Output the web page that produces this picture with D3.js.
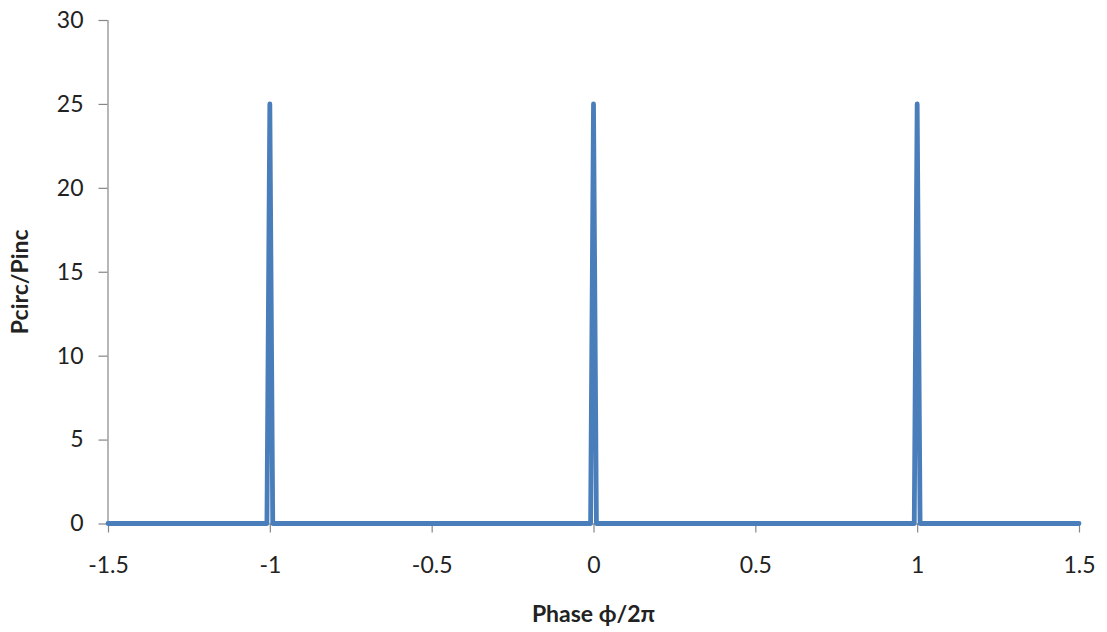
<!DOCTYPE html>
<html>
<head>
<meta charset="utf-8">
<script src="https://cdn.jsdelivr.net/npm/d3@7"></script>
<style>
  html, body { margin: 0; padding: 0; background: #fff; }
  svg { display: block; }
  .tick text { font-family: Lato, "Open Sans", sans-serif; font-size: 23px; fill: #222; }
</style>
</head>
<body>
<svg id="chart" width="1107" height="632"></svg>
<script>
// Phase (φ/2π) sample positions
const phase = [-1.5, -1.009, -1.0, -0.991, -0.009, 0.0, 0.009, 0.991, 1.0, 1.009, 1.5];
// Pcirc/Pinc values at those positions
const power = [0, 0, 25, 0, 0, 25, 0, 0, 25, 0, 0];
const xTicks = [-1.5, -1, -0.5, 0, 0.5, 1, 1.5];
const yTicks = [0, 5, 10, 15, 20, 25, 30];
const xTitle = "Phase \u03D5/2\u03C0";
const yTitle = "Pcirc/Pinc";

(function () {
const svg = d3.select("#chart");
const mLeft = 107.5, mRight = 1079, mTop = 20, mBottom = 523.5;

const x = d3.scaleLinear().domain([-1.5, 1.5]).range([mLeft + 0.5, mRight]);
const y = d3.scaleLinear().domain([0, 30]).range([mBottom, mTop]);

const axisColor = "#868686";

const xAxis = svg.append("g")
  .attr("transform", `translate(0,${mBottom})`)
  .call(d3.axisBottom(x).tickValues(xTicks).tickSize(9).tickPadding(24)
        .tickFormat(d => String(d)));
const yAxis = svg.append("g")
  .attr("transform", `translate(${mLeft},0)`)
  .call(d3.axisLeft(y).tickValues(yTicks).tickSize(9).tickPadding(15)
        .tickFormat(d => String(d)));

[xAxis, yAxis].forEach(g => {
  g.select(".domain").attr("stroke", axisColor).attr("stroke-width", 1.2);
  g.selectAll(".tick line").attr("stroke", axisColor).attr("stroke-width", 1.2);
  g.selectAll(".tick text").attr("fill", "#222");
});
yAxis.select(".domain").attr("d", `M0.5,${mTop}V${mBottom}`);
xAxis.select(".domain").attr("d", `M${mLeft},0.5H${mRight}`);

const data = phase.map((p, i) => ({ p, v: power[i] }));
svg.append("path")
  .datum(data)
  .attr("fill", "none")
  .attr("stroke", "#4a7ebb")
  .attr("stroke-width", 4.8)
  .attr("stroke-linejoin", "round")
  .attr("stroke-linecap", "round")
  .attr("d", d3.line().x(d => x(d.p)).y(d => y(d.v)));

svg.append("text")
  .attr("x", x(0))
  .attr("y", 622)
  .attr("text-anchor", "middle")
  .style("font-family", "Lato, 'Open Sans', sans-serif")
  .style("font-size", "23px")
  .style("font-weight", "bold")
  .attr("fill", "#222")
  .text(xTitle);

svg.append("text")
  .attr("transform", `translate(28,${(mTop + mBottom) / 2 + 10}) rotate(-90)`)
  .attr("text-anchor", "middle")
  .style("font-family", "Lato, 'Open Sans', sans-serif")
  .style("font-size", "23px")
  .style("font-weight", "bold")
  .attr("fill", "#222")
  .text(yTitle);
})();
</script>
</body>
</html>
